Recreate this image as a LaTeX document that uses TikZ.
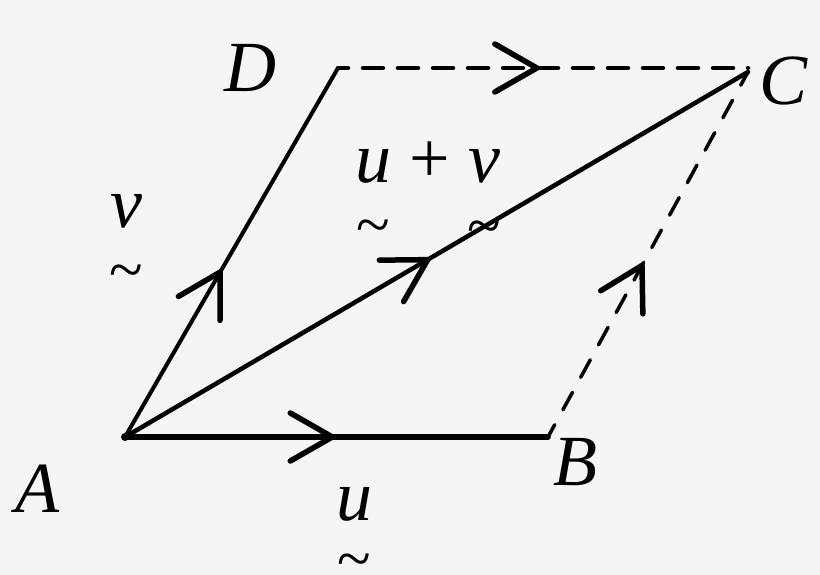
\documentclass[tikz,border=0pt]{standalone}
\usepackage{fontspec}
\setmainfont{Liberation Serif}
\usetikzlibrary{decorations.markings,calc}
\definecolor{bg}{RGB}{245,245,245}
\newcommand\tvec[2]{\ooalign{#1\cr\hidewidth\smash{\raisebox{#2}{\fontsize{62}{62}\selectfont\upshape\char"7E}}\hidewidth\cr}}
\tikzset{
  vec/.style={line cap=round, line join=round},
  midarrow/.style={postaction={decorate, decoration={markings,
     mark=at position #1 with {\draw[solid, line width=5.5pt, line cap=round, line join=miter]
        (-42pt,24pt) -- (0pt,0pt) -- (-42pt,-24pt);}}}},
  pt/.style={inner sep=0pt, font=\fontsize{72}{72}\selectfont\itshape, anchor=base}
}
\begin{document}
\begin{tikzpicture}[x=1pt,y=-1pt]
\fill[bg] (0,0) rectangle (820,575);
\useasboundingbox (0,0) rectangle (820,575);
\coordinate (A) at (125,437);
\coordinate (B) at (548,437);
\coordinate (C) at (748,72);
\coordinate (D) at (338,68);
\coordinate (D2) at (748,68);
% vectors
\draw[vec, line width=5.5pt, midarrow=0.49] (A) -- (B);
\draw[vec, line width=4.5pt, midarrow=0.486] (A) -- (C);
\draw[vec, line width=4pt, midarrow=0.447] (A) -- (D);
\draw[vec, line width=4.5pt, dash pattern=on 20pt off 15pt, dash phase=10pt, midarrow=0.485] (D) -- (D2);
\draw[vec, line width=3.5pt, dash pattern=on 20pt off 17pt, dash phase=6pt, midarrow=0.47] (B) -- (C);
\fill (A) circle (4pt);
% point labels
\node[pt] (lA) at (37,512) {A};
\node[pt] (lB) at (575,485) {B};
\node[pt] (lC) at (784,105) {C};
\node[pt] (lD) at (250,92) {D};
% vector labels
\node[pt] (lu) at (354,520) {\tvec{u}{-59pt}};
\node[pt] (lv) at (126,228) {\tvec{v}{-63pt}};
\node[pt] (luv) at (428,183) {\tvec{u}{-63pt} {\upshape +} \tvec{v}{-64pt}};
\end{tikzpicture}
\end{document}
